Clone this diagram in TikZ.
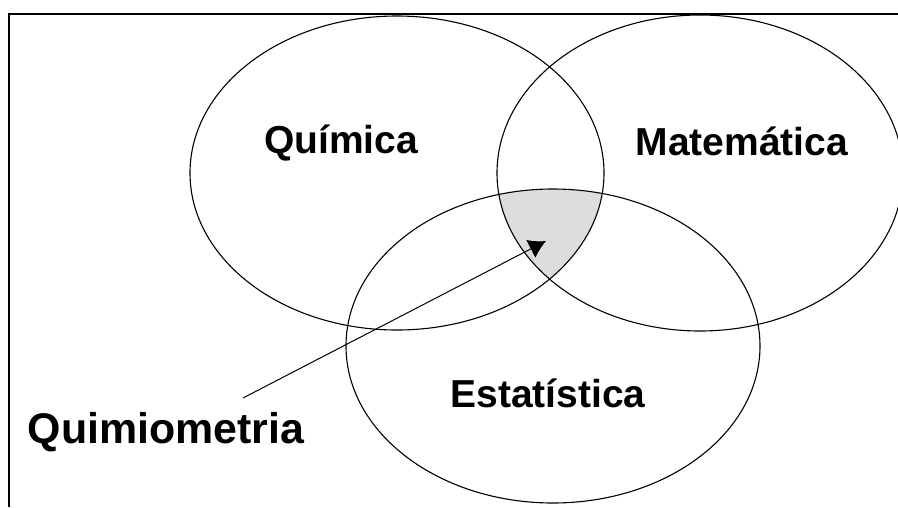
\documentclass[tikz,border=0pt]{standalone}
\usepackage{fontspec}
\setmainfont{Liberation Sans}
\usetikzlibrary{arrows.meta, positioning}
\definecolor{cinza}{RGB}{221,221,221}
\tikzset{
  conjunto/.style={draw=black, line width=1.1pt},
  rotulo/.style={font=\fontsize{39}{39}\selectfont\bfseries, inner sep=0pt},
}
\begin{document}
\begin{tikzpicture}[x=1pt,y=-1pt]
                  \useasboundingbox (0,0) rectangle (898,507);
                  \begin{scope}
                    \clip (397,173) ellipse [x radius=207, y radius=157];
                    \clip (700,173) ellipse [x radius=203, y radius=158];
                    \fill[cinza] (553,346) ellipse [x radius=207, y radius=157];
                  \end{scope}
                  \draw[conjunto] (397,173) ellipse [x radius=207, y radius=157];
                  \draw[conjunto] (700,173) ellipse [x radius=203, y radius=158];
                  \draw[conjunto] (553,346) ellipse [x radius=207, y radius=157];
                  \draw[line width=2pt] (9,507) -- (9,14) -- (898,14);
                  \node[rotulo] (quimica) at (341,143) {Química};
                  \node[rotulo] (matematica) at (742,141) {Matemática};
                  \node[rotulo] (estatistica) at (548,393) {Estatística};
                  \node[rotulo, scale=1.1] (quimiometria) at (166,432) {Quimiometria};
                  \coordinate (saida) at (243,398);
                  \coordinate (alvo) at (546,241);
                  \draw[line width=1pt, -{Latex[length=17pt,width=20pt]}] (saida) -- (alvo);
                \end{tikzpicture}
\end{document}
